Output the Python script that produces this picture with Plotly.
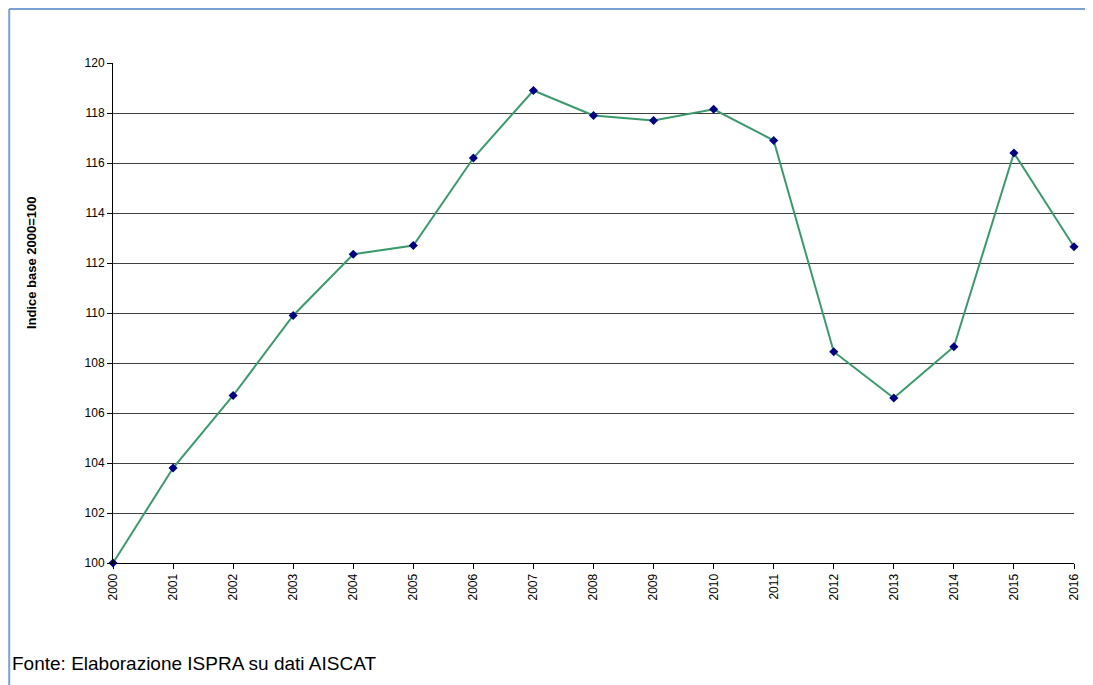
import plotly.graph_objects as go

# indice base 2000=100
anni = ["2000", "2001", "2002", "2003", "2004", "2005", "2006", "2007", "2008",
        "2009", "2010", "2011", "2012", "2013", "2014", "2015", "2016"]
indice = [100.0, 103.8, 106.7, 109.9, 112.35, 112.7, 116.2, 118.9, 117.9,
          117.7, 118.15, 116.9, 108.45, 106.6, 108.65, 116.4, 112.65]

y_ticks = [100, 102, 104, 106, 108, 110, 112, 114, 116, 118, 120]

fig = go.Figure()

fig.add_trace(go.Scatter(
    x=anni, y=indice, mode="lines+markers",
    line=dict(color="#3a9a6c", width=2),
    marker=dict(symbol="diamond", size=7, color="#000080"),
    cliponaxis=False,
))

fig.update_xaxes(
    type="category", range=[0, 16], tickangle=-90,
    showline=True, linecolor="black", linewidth=1,
    ticks="outside", ticklen=5, tickcolor="black",
    showgrid=False, zeroline=False,
    tickfont=dict(family="Arial, Liberation Sans", size=12, color="black"),
)
fig.update_yaxes(
    range=[100, 120], tickvals=y_ticks,
    showline=True, linecolor="black", linewidth=1,
    ticks="outside", ticklen=5, tickcolor="black",
    showgrid=True, gridcolor="#404040", gridwidth=1, zeroline=False,
    tickfont=dict(family="Arial, Liberation Sans", size=12, color="black"),
)

# titolo asse y (non centrato sull'area del grafico)
fig.add_annotation(
    text="<b>Indice base 2000=100</b>", textangle=-90,
    xref="paper", yref="paper", x=-0.0852, y=0.6,
    xanchor="center", yanchor="middle", showarrow=False,
    font=dict(family="Arial, Liberation Sans", size=13, color="black"),
)

# cornice blu (solo sopra e a sinistra)
fig.add_shape(type="line", xref="paper", yref="paper",
              x0=-0.108, y0=1.108, x1=1.03, y1=1.108,
              line=dict(color="#7aa0d4", width=2))
fig.add_shape(type="line", xref="paper", yref="paper",
              x0=-0.108, y0=1.108, x1=-0.108, y1=-0.25,
              line=dict(color="#7aa0d4", width=2))

fig.add_annotation(
    text="Fonte: Elaborazione ISPRA su dati AISCAT",
    xref="paper", yref="paper", x=-0.107, y=-0.2,
    xanchor="left", yanchor="middle", showarrow=False,
    font=dict(family="Liberation Sans Narrow, Arial Narrow, Arial", size=19, color="black"),
)

# la pagina ha 8px di margine sul body
fig.update_layout(
    width=1085, height=677,
    margin=dict(l=105, r=17, t=55, b=122),
    paper_bgcolor="white", plot_bgcolor="white",
    showlegend=False,
)

fig.write_html("out.html")
